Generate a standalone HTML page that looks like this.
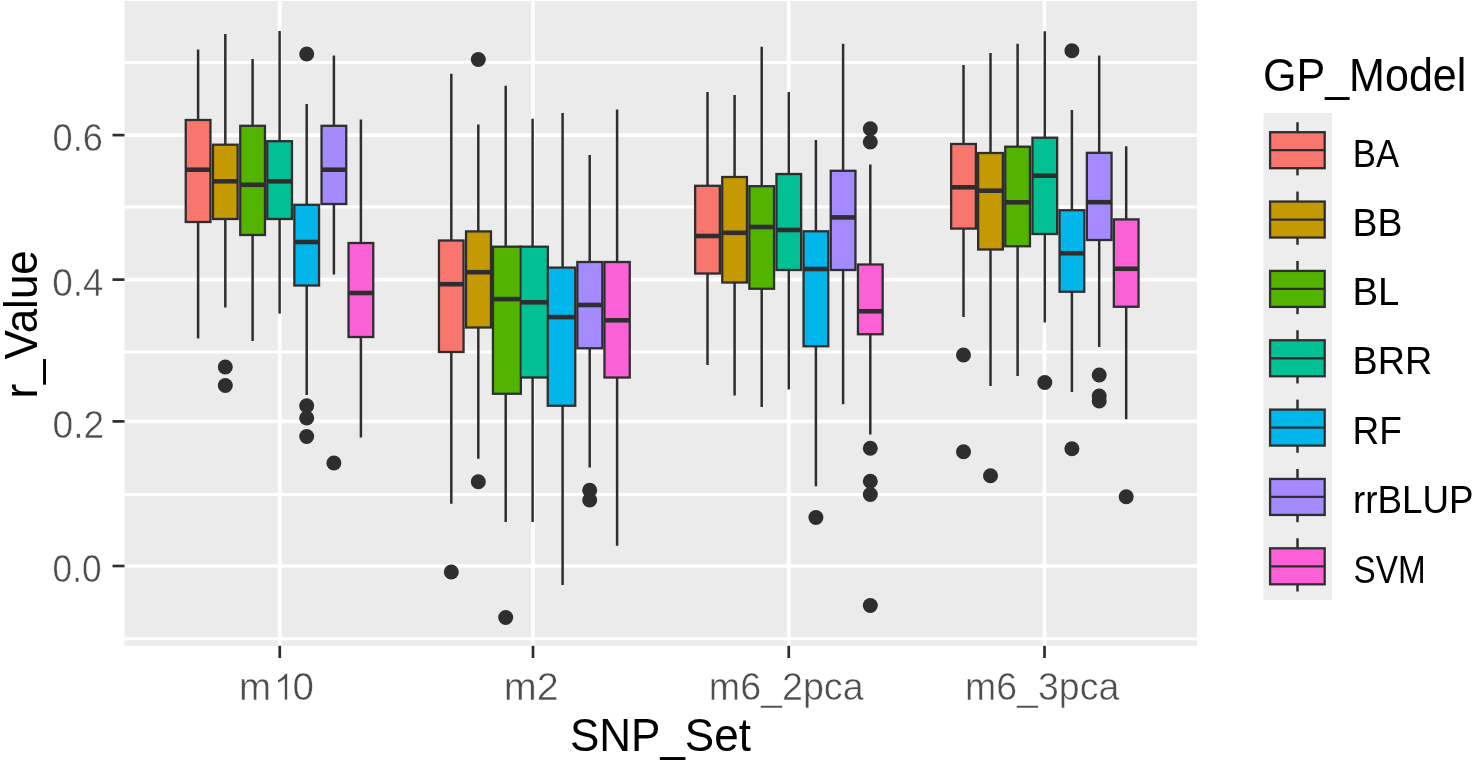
<!DOCTYPE html>
<html><head><meta charset="utf-8"><title>Boxplot</title>
<style>html,body{margin:0;padding:0;background:#fff;overflow:hidden}body{width:1476px;height:763px;font-family:"Liberation Sans",sans-serif}</style></head>
<body>
<svg width="1476" height="763" viewBox="0 0 1476 763" style="display:block" font-family="'Liberation Sans', sans-serif">
<rect x="0" y="0" width="1476" height="763" fill="#FFFFFF"/>
<defs><filter id="soft" filterUnits="userSpaceOnUse" x="-30" y="-30" width="1540" height="830"><feGaussianBlur stdDeviation="0.65"/></filter></defs>
<g filter="url(#soft)">
<rect x="-30" y="-30" width="1540" height="830" fill="#FFFFFF"/>
<rect x="124.5" y="1.0" width="1072.5" height="644.8" fill="#EBEBEB"/>
<g stroke="#FFFFFF" fill="none">
<line x1="124.5" x2="1197.0" y1="62.6" y2="62.6" stroke-width="3.0"/>
<line x1="124.5" x2="1197.0" y1="207.0" y2="207.0" stroke-width="3.0"/>
<line x1="124.5" x2="1197.0" y1="352.0" y2="352.0" stroke-width="3.0"/>
<line x1="124.5" x2="1197.0" y1="494.5" y2="494.5" stroke-width="3.0"/>
<line x1="124.5" x2="1197.0" y1="638.7" y2="638.7" stroke-width="3.0"/>
<line x1="124.5" x2="1197.0" y1="135.1" y2="135.1" stroke-width="3.7"/>
<line x1="124.5" x2="1197.0" y1="279.6" y2="279.6" stroke-width="3.7"/>
<line x1="124.5" x2="1197.0" y1="421.4" y2="421.4" stroke-width="3.7"/>
<line x1="124.5" x2="1197.0" y1="566.0" y2="566.0" stroke-width="3.7"/>
<line x1="279.75" x2="279.75" y1="1.0" y2="645.8" stroke-width="3.7"/>
<line x1="533.0" x2="533.0" y1="1.0" y2="645.8" stroke-width="3.7"/>
<line x1="788.75" x2="788.75" y1="1.0" y2="645.8" stroke-width="3.7"/>
<line x1="1044.5" x2="1044.5" y1="1.0" y2="645.8" stroke-width="3.7"/>
</g>
<g stroke="#2F2F2F" stroke-width="2.5"><line x1="198.1" x2="198.1" y1="49.5" y2="120.0"/><line x1="198.1" x2="198.1" y1="222" y2="338.4"/><line x1="225.3" x2="225.3" y1="34" y2="144.7"/><line x1="225.3" x2="225.3" y1="219" y2="307.5"/><line x1="252.6" x2="252.6" y1="59" y2="125.8"/><line x1="252.6" x2="252.6" y1="235" y2="341"/><line x1="279.6" x2="279.6" y1="31" y2="141.2"/><line x1="279.6" x2="279.6" y1="219" y2="313.6"/><line x1="306.7" x2="306.7" y1="104" y2="204.8"/><line x1="306.7" x2="306.7" y1="285.5" y2="395"/><line x1="333.9" x2="333.9" y1="55.5" y2="125.8"/><line x1="333.9" x2="333.9" y1="204" y2="274.5"/><line x1="360.9" x2="360.9" y1="119.5" y2="243"/><line x1="360.9" x2="360.9" y1="337" y2="437.5"/><line x1="451.3" x2="451.3" y1="73.75" y2="240.5"/><line x1="451.3" x2="451.3" y1="352" y2="503.75"/><line x1="478.3" x2="478.3" y1="124.5" y2="231.4"/><line x1="478.3" x2="478.3" y1="327.5" y2="458.75"/><line x1="505.7" x2="505.7" y1="85.75" y2="246.7"/><line x1="505.7" x2="505.7" y1="393.75" y2="522"/><line x1="532.6" x2="532.6" y1="118.75" y2="246.7"/><line x1="532.6" x2="532.6" y1="377.5" y2="522"/><line x1="562.6" x2="562.6" y1="113" y2="267.6"/><line x1="562.6" x2="562.6" y1="405.75" y2="585"/><line x1="589.7" x2="589.7" y1="155" y2="262"/><line x1="589.7" x2="589.7" y1="348.25" y2="467.5"/><line x1="617.1" x2="617.1" y1="109.5" y2="262"/><line x1="617.1" x2="617.1" y1="377.5" y2="545.75"/><line x1="707.5" x2="707.5" y1="92" y2="185.8"/><line x1="707.5" x2="707.5" y1="273.5" y2="365"/><line x1="734.6" x2="734.6" y1="95" y2="177"/><line x1="734.6" x2="734.6" y1="282.5" y2="395.5"/><line x1="761.7" x2="761.7" y1="46.75" y2="186.2"/><line x1="761.7" x2="761.7" y1="288.75" y2="407"/><line x1="788.8" x2="788.8" y1="92" y2="174"/><line x1="788.8" x2="788.8" y1="270" y2="389.5"/><line x1="815.9" x2="815.9" y1="140" y2="231.3"/><line x1="815.9" x2="815.9" y1="346.25" y2="486.25"/><line x1="843.1" x2="843.1" y1="43.75" y2="170.8"/><line x1="843.1" x2="843.1" y1="270" y2="404.25"/><line x1="870.3" x2="870.3" y1="164.5" y2="264.5"/><line x1="870.3" x2="870.3" y1="334.25" y2="434.5"/><line x1="963.5" x2="963.5" y1="65" y2="144"/><line x1="963.5" x2="963.5" y1="228.6" y2="317"/><line x1="990.5" x2="990.5" y1="53" y2="153"/><line x1="990.5" x2="990.5" y1="249.5" y2="386"/><line x1="1017.6" x2="1017.6" y1="43.75" y2="146.7"/><line x1="1017.6" x2="1017.6" y1="246.25" y2="376"/><line x1="1044.8" x2="1044.8" y1="31.25" y2="137.7"/><line x1="1044.8" x2="1044.8" y1="234" y2="322.5"/><line x1="1071.9" x2="1071.9" y1="110" y2="210.2"/><line x1="1071.9" x2="1071.9" y1="291.75" y2="392"/><line x1="1099.2" x2="1099.2" y1="55.5" y2="152.8"/><line x1="1099.2" x2="1099.2" y1="240" y2="347"/><line x1="1126.2" x2="1126.2" y1="146.25" y2="219.4"/><line x1="1126.2" x2="1126.2" y1="306.75" y2="419.25"/></g>
<g fill="#2F2F2F"><rect x="184.60" y="118.85" width="27.00" height="104.30"/><rect x="211.80" y="143.55" width="27.00" height="76.60"/><rect x="239.10" y="124.65" width="27.00" height="111.50"/><rect x="266.10" y="140.05" width="27.00" height="80.10"/><rect x="293.20" y="203.65" width="27.00" height="83.00"/><rect x="320.40" y="124.65" width="27.00" height="80.50"/><rect x="347.40" y="241.85" width="27.00" height="96.30"/><rect x="437.80" y="239.35" width="26.90" height="113.80"/><rect x="464.90" y="230.25" width="27.20" height="98.40"/><rect x="491.80" y="245.55" width="30.20" height="149.35"/><rect x="519.20" y="245.55" width="29.80" height="133.10"/><rect x="546.60" y="266.45" width="29.80" height="140.45"/><rect x="576.20" y="260.85" width="27.30" height="88.55"/><rect x="603.30" y="260.85" width="27.60" height="117.80"/><rect x="694.00" y="184.65" width="27.00" height="90.00"/><rect x="721.10" y="175.85" width="27.00" height="107.80"/><rect x="748.20" y="185.05" width="27.00" height="104.85"/><rect x="775.30" y="172.85" width="27.00" height="98.30"/><rect x="802.40" y="230.15" width="27.00" height="117.25"/><rect x="829.60" y="169.65" width="27.00" height="101.50"/><rect x="856.80" y="263.35" width="27.00" height="72.05"/><rect x="950.00" y="142.85" width="27.00" height="86.90"/><rect x="977.00" y="151.85" width="27.00" height="98.80"/><rect x="1004.10" y="145.55" width="27.00" height="101.85"/><rect x="1031.30" y="136.55" width="27.00" height="98.60"/><rect x="1058.40" y="209.05" width="27.00" height="83.85"/><rect x="1085.70" y="151.65" width="27.00" height="89.50"/><rect x="1112.70" y="218.25" width="27.00" height="89.65"/></g>
<g><rect x="186.90" y="121.15" width="22.40" height="99.70" fill="#F8766D"/><rect x="214.10" y="145.85" width="22.40" height="72.00" fill="#C49A00"/><rect x="241.40" y="126.95" width="22.40" height="106.90" fill="#53B400"/><rect x="268.40" y="142.35" width="22.40" height="75.50" fill="#00C094"/><rect x="295.50" y="205.95" width="22.40" height="78.40" fill="#00B6EB"/><rect x="322.70" y="126.95" width="22.40" height="75.90" fill="#A58AFF"/><rect x="349.70" y="244.15" width="22.40" height="91.70" fill="#FB61D7"/><rect x="440.10" y="241.65" width="22.30" height="109.20" fill="#F8766D"/><rect x="467.20" y="232.55" width="22.60" height="93.80" fill="#C49A00"/><rect x="494.10" y="247.85" width="25.60" height="144.75" fill="#53B400"/><rect x="521.50" y="247.85" width="25.20" height="128.50" fill="#00C094"/><rect x="548.90" y="268.75" width="25.20" height="135.85" fill="#00B6EB"/><rect x="578.50" y="263.15" width="22.70" height="83.95" fill="#A58AFF"/><rect x="605.60" y="263.15" width="23.00" height="113.20" fill="#FB61D7"/><rect x="696.30" y="186.95" width="22.40" height="85.40" fill="#F8766D"/><rect x="723.40" y="178.15" width="22.40" height="103.20" fill="#C49A00"/><rect x="750.50" y="187.35" width="22.40" height="100.25" fill="#53B400"/><rect x="777.60" y="175.15" width="22.40" height="93.70" fill="#00C094"/><rect x="804.70" y="232.45" width="22.40" height="112.65" fill="#00B6EB"/><rect x="831.90" y="171.95" width="22.40" height="96.90" fill="#A58AFF"/><rect x="859.10" y="265.65" width="22.40" height="67.45" fill="#FB61D7"/><rect x="952.30" y="145.15" width="22.40" height="82.30" fill="#F8766D"/><rect x="979.30" y="154.15" width="22.40" height="94.20" fill="#C49A00"/><rect x="1006.40" y="147.85" width="22.40" height="97.25" fill="#53B400"/><rect x="1033.60" y="138.85" width="22.40" height="94.00" fill="#00C094"/><rect x="1060.70" y="211.35" width="22.40" height="79.25" fill="#00B6EB"/><rect x="1088.00" y="153.95" width="22.40" height="84.90" fill="#A58AFF"/><rect x="1115.00" y="220.55" width="22.40" height="85.05" fill="#FB61D7"/></g>
<g fill="#2F2F2F"><rect x="185.90" y="167.40" width="24.40" height="4.6"/><rect x="213.10" y="179.00" width="24.40" height="4.6"/><rect x="240.40" y="182.50" width="24.40" height="4.6"/><rect x="267.40" y="179.00" width="24.40" height="4.6"/><rect x="294.50" y="239.70" width="24.40" height="4.6"/><rect x="321.70" y="167.40" width="24.40" height="4.6"/><rect x="348.70" y="290.70" width="24.40" height="4.6"/><rect x="439.10" y="281.90" width="24.30" height="4.6"/><rect x="466.20" y="269.90" width="24.60" height="4.6"/><rect x="493.10" y="296.80" width="27.60" height="4.6"/><rect x="520.50" y="300.00" width="27.20" height="4.6"/><rect x="547.90" y="314.80" width="27.20" height="4.6"/><rect x="577.50" y="302.70" width="24.70" height="4.6"/><rect x="604.60" y="318.00" width="25.00" height="4.6"/><rect x="695.30" y="233.70" width="24.40" height="4.6"/><rect x="722.40" y="230.50" width="24.40" height="4.6"/><rect x="749.50" y="224.70" width="24.40" height="4.6"/><rect x="776.60" y="227.70" width="24.40" height="4.6"/><rect x="803.70" y="266.70" width="24.40" height="4.6"/><rect x="830.90" y="215.10" width="24.40" height="4.6"/><rect x="858.10" y="308.95" width="24.40" height="4.6"/><rect x="951.30" y="185.00" width="24.40" height="4.6"/><rect x="978.30" y="188.40" width="24.40" height="4.6"/><rect x="1005.40" y="200.00" width="24.40" height="4.6"/><rect x="1032.60" y="173.40" width="24.40" height="4.6"/><rect x="1059.70" y="250.95" width="24.40" height="4.6"/><rect x="1087.00" y="199.90" width="24.40" height="4.6"/><rect x="1114.00" y="266.45" width="24.40" height="4.6"/><circle cx="225.3" cy="367" r="7.5"/><circle cx="225.3" cy="385.5" r="7.5"/><circle cx="306.7" cy="54" r="7.5"/><circle cx="306.7" cy="405.75" r="7.5"/><circle cx="306.7" cy="418" r="7.5"/><circle cx="306.7" cy="436.5" r="7.5"/><circle cx="333.9" cy="463" r="7.5"/><circle cx="451.3" cy="572" r="7.5"/><circle cx="478.3" cy="59.5" r="7.5"/><circle cx="478.3" cy="481.75" r="7.5"/><circle cx="505.7" cy="617.5" r="7.5"/><circle cx="589.7" cy="490.3" r="7.5"/><circle cx="589.7" cy="500.0" r="7.5"/><circle cx="815.9" cy="517.5" r="7.5"/><circle cx="870.3" cy="128.75" r="7.5"/><circle cx="870.3" cy="142" r="7.5"/><circle cx="870.3" cy="448.25" r="7.5"/><circle cx="870.3" cy="481.25" r="7.5"/><circle cx="870.3" cy="494.5" r="7.5"/><circle cx="870.3" cy="605.5" r="7.5"/><circle cx="963.5" cy="355" r="7.5"/><circle cx="963.5" cy="451.75" r="7.5"/><circle cx="990.5" cy="475.75" r="7.5"/><circle cx="1044.8" cy="382.5" r="7.5"/><circle cx="1071.9" cy="50.75" r="7.5"/><circle cx="1071.9" cy="448.75" r="7.5"/><circle cx="1099.2" cy="375" r="7.5"/><circle cx="1099.2" cy="396" r="7.5"/><circle cx="1099.2" cy="401" r="7.5"/><circle cx="1126.2" cy="496.75" r="7.5"/></g>
<g stroke="#2F2F2F" stroke-width="2.7">
<line x1="112.5" x2="124.5" y1="135.1" y2="135.1"/>
<line x1="112.5" x2="124.5" y1="279.6" y2="279.6"/>
<line x1="112.5" x2="124.5" y1="421.4" y2="421.4"/>
<line x1="112.5" x2="124.5" y1="566.0" y2="566.0"/>
<line x1="279.75" x2="279.75" y1="645.8" y2="658"/>
<line x1="533.0" x2="533.0" y1="645.8" y2="658"/>
<line x1="788.75" x2="788.75" y1="645.8" y2="658"/>
<line x1="1044.5" x2="1044.5" y1="645.8" y2="658"/>
</g>
<text transform="translate(52.55,151.20) scale(0.9396,1)" font-size="38.5" fill="#4D4D4D" stroke="#FFFFFF" stroke-width="0.5" paint-order="fill stroke">0.6</text>
<text transform="translate(52.32,295.80) scale(0.9584,1)" font-size="38.5" fill="#4D4D4D" stroke="#FFFFFF" stroke-width="0.5" paint-order="fill stroke">0.4</text>
<text transform="translate(52.51,437.50) scale(0.9650,1)" font-size="38.5" fill="#4D4D4D" stroke="#FFFFFF" stroke-width="0.5" paint-order="fill stroke">0.2</text>
<text transform="translate(52.59,582.20) scale(0.9163,1)" font-size="38.5" fill="#4D4D4D" stroke="#FFFFFF" stroke-width="0.5" paint-order="fill stroke">0.0</text>
<g transform="translate(239.00,700.00) scale(0.9994,1)" font-size="38.5" fill="#4D4D4D"><text stroke="#FFFFFF" stroke-width="0.5" paint-order="fill stroke">m</text><path transform="translate(34.371,0) scale(0.018799,0.018141)" d="M763 0L583 0L583 -1147Q518 -1085 412.5 -1023T223 -930L223 -1104Q374 -1175 487 -1276T647 -1472L763 -1472Z" stroke="#FFFFFF" stroke-width="0.9" vector-effect="non-scaling-stroke" paint-order="fill stroke"/><text x="53.483" stroke="#FFFFFF" stroke-width="0.5" paint-order="fill stroke">0</text></g>
<text transform="translate(503.73,700.00) scale(1.0287,1)" font-size="38.5" fill="#4D4D4D" stroke="#FFFFFF" stroke-width="0.5" paint-order="fill stroke">m2</text>
<text transform="translate(708.86,700.00) scale(0.9773,1)" font-size="38.5" fill="#4D4D4D" stroke="#FFFFFF" stroke-width="0.5" paint-order="fill stroke">m6_2pca</text>
<text transform="translate(965.07,700.00) scale(0.9735,1)" font-size="38.5" fill="#4D4D4D" stroke="#FFFFFF" stroke-width="0.5" paint-order="fill stroke">m6_3pca</text>
<text transform="translate(569.92,750.80) scale(0.9365,1)" font-size="47.0" fill="#000000">SNP_Set</text>
<text transform="translate(1262.95,90.50) scale(0.9162,1)" font-size="47.0" fill="#000000">GP_Model</text>
<text transform="translate(1352.74,167.00) scale(0.9018,1)" font-size="38.5" fill="#000000">BA</text>
<text transform="translate(1352.52,235.50) scale(0.9697,1)" font-size="38.5" fill="#000000">BB</text>
<text transform="translate(1352.43,305.00) scale(0.9967,1)" font-size="38.5" fill="#000000">BL</text>
<text transform="translate(1352.49,374.40) scale(0.9800,1)" font-size="38.5" fill="#000000">BRR</text>
<text transform="translate(1352.55,444.00) scale(0.9617,1)" font-size="38.5" fill="#000000">RF</text>
<text transform="translate(1353.12,513.20) scale(0.9551,1)" font-size="38.5" fill="#000000">rrBLUP</text>
<text transform="translate(1353.60,582.60) scale(0.8645,1)" font-size="38.5" fill="#000000">SVM</text>
<text transform="translate(37.3,398.57) rotate(-90) scale(0.9365,1)" font-size="47.0" fill="#000000">r_Value</text>
<rect x="1263.5" y="113.0" width="68.5" height="487.0" fill="#EDEDED"/>
<g stroke="#2F2F2F" stroke-width="2.3">
<line x1="1297.5" x2="1297.5" y1="122.19999999999999" y2="132.2" stroke-width="2.5"/><line x1="1297.5" x2="1297.5" y1="168.2" y2="175.39999999999998" stroke-width="2.5"/>
<rect x="1270.1" y="132.2" width="54.60" height="36.0" fill="#F8766D"/>
<line x1="1270.1" x2="1324.7" y1="150.2" y2="150.2"/>
</g>
<g stroke="#2F2F2F" stroke-width="2.3">
<line x1="1297.5" x2="1297.5" y1="191.54999999999998" y2="201.54999999999998" stroke-width="2.5"/><line x1="1297.5" x2="1297.5" y1="237.54999999999998" y2="244.74999999999997" stroke-width="2.5"/>
<rect x="1270.1" y="201.54999999999998" width="54.60" height="36.0" fill="#C49A00"/>
<line x1="1270.1" x2="1324.7" y1="219.54999999999998" y2="219.54999999999998"/>
</g>
<g stroke="#2F2F2F" stroke-width="2.3">
<line x1="1297.5" x2="1297.5" y1="260.9" y2="270.9" stroke-width="2.5"/><line x1="1297.5" x2="1297.5" y1="306.9" y2="314.09999999999997" stroke-width="2.5"/>
<rect x="1270.1" y="270.9" width="54.60" height="36.0" fill="#53B400"/>
<line x1="1270.1" x2="1324.7" y1="288.9" y2="288.9"/>
</g>
<g stroke="#2F2F2F" stroke-width="2.3">
<line x1="1297.5" x2="1297.5" y1="330.25" y2="340.25" stroke-width="2.5"/><line x1="1297.5" x2="1297.5" y1="376.25" y2="383.45" stroke-width="2.5"/>
<rect x="1270.1" y="340.25" width="54.60" height="36.0" fill="#00C094"/>
<line x1="1270.1" x2="1324.7" y1="358.25" y2="358.25"/>
</g>
<g stroke="#2F2F2F" stroke-width="2.3">
<line x1="1297.5" x2="1297.5" y1="399.59999999999997" y2="409.59999999999997" stroke-width="2.5"/><line x1="1297.5" x2="1297.5" y1="445.59999999999997" y2="452.79999999999995" stroke-width="2.5"/>
<rect x="1270.1" y="409.59999999999997" width="54.60" height="36.0" fill="#00B6EB"/>
<line x1="1270.1" x2="1324.7" y1="427.59999999999997" y2="427.59999999999997"/>
</g>
<g stroke="#2F2F2F" stroke-width="2.3">
<line x1="1297.5" x2="1297.5" y1="468.95" y2="478.95" stroke-width="2.5"/><line x1="1297.5" x2="1297.5" y1="514.95" y2="522.15" stroke-width="2.5"/>
<rect x="1270.1" y="478.95" width="54.60" height="36.0" fill="#A58AFF"/>
<line x1="1270.1" x2="1324.7" y1="496.95" y2="496.95"/>
</g>
<g stroke="#2F2F2F" stroke-width="2.3">
<line x1="1297.5" x2="1297.5" y1="538.3" y2="548.3" stroke-width="2.5"/><line x1="1297.5" x2="1297.5" y1="584.3" y2="591.5" stroke-width="2.5"/>
<rect x="1270.1" y="548.3" width="54.60" height="36.0" fill="#FB61D7"/>
<line x1="1270.1" x2="1324.7" y1="566.3" y2="566.3"/>
</g>
</g>
</svg>
</body></html>
